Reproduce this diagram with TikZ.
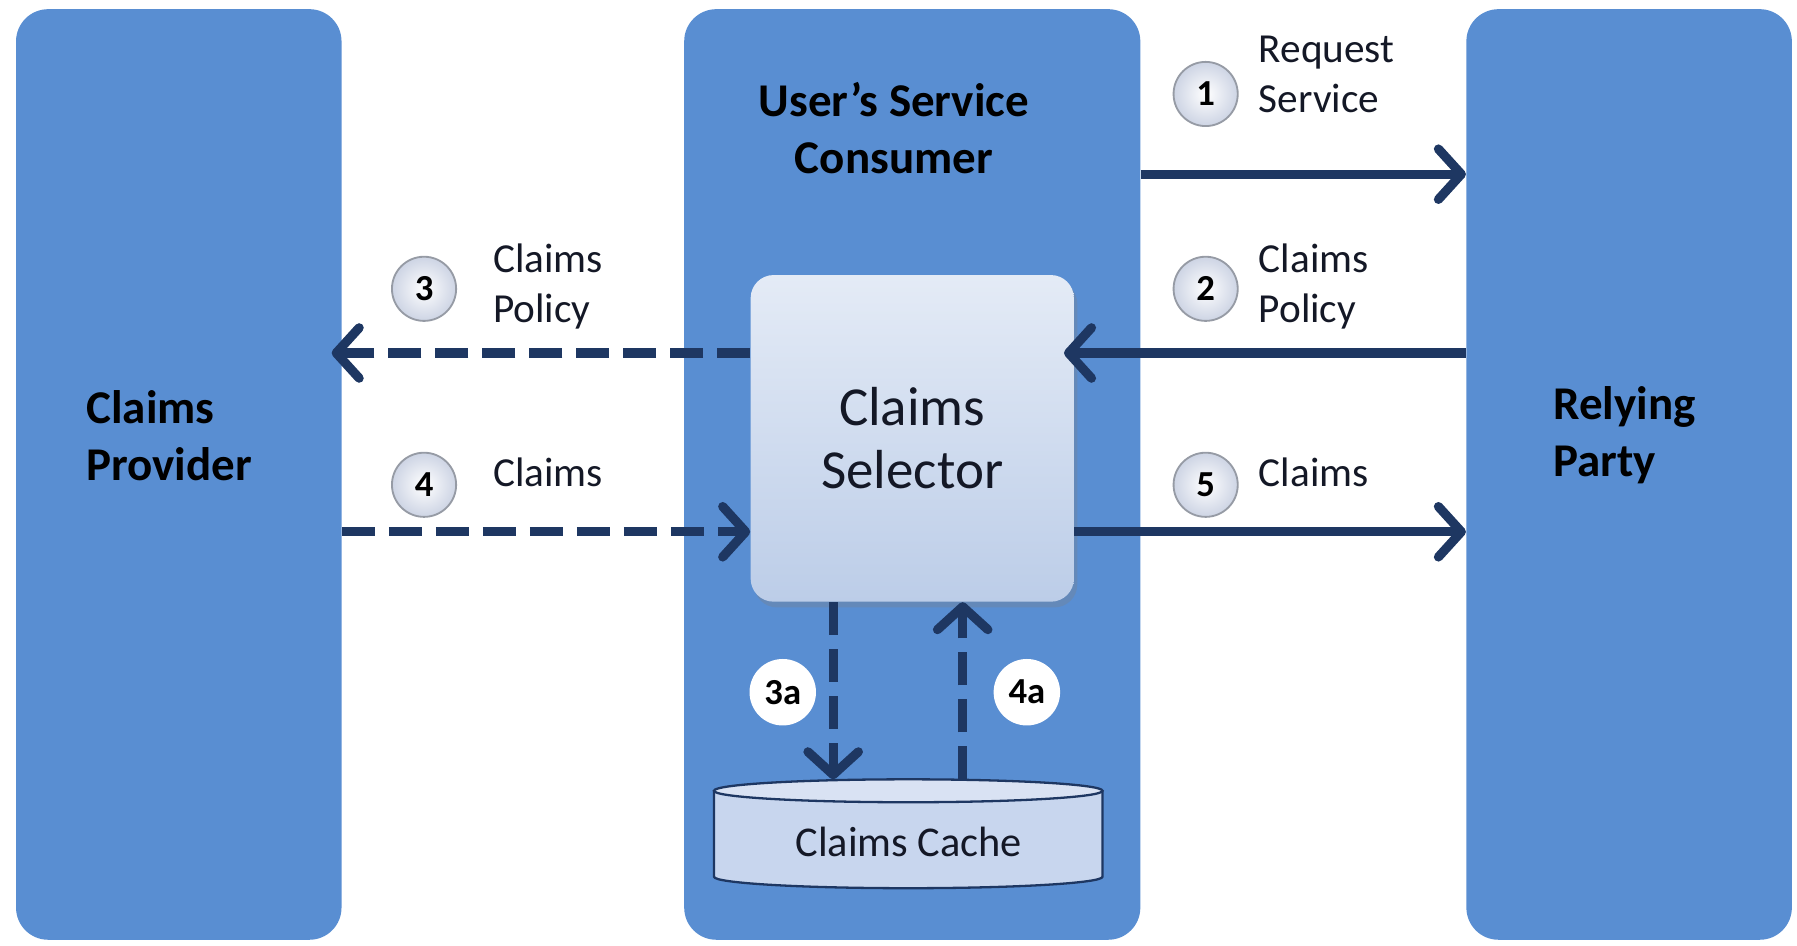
\documentclass[tikz,border=0pt]{standalone}
\usepackage{fontspec}
\setmainfont{Carlito}
\usetikzlibrary{arrows.meta,shadows}

\definecolor{boxblue}{RGB}{89,142,210}
\definecolor{arrownavy}{RGB}{30,55,98}
\definecolor{selectortop}{RGB}{228,235,246}
\definecolor{selectorbot}{RGB}{188,205,232}
\definecolor{cachefill}{RGB}{200,214,238}
\definecolor{circleedge}{RGB}{150,155,165}
\definecolor{circleouter}{RGB}{205,212,228}
\definecolor{textdark}{RGB}{20,24,38}

\tikzset{
  party/.style={rectangle, rounded corners=14pt, fill=boxblue, minimum width=142pt, minimum height=406pt, inner sep=0pt},
  title/.style={font=\fontsize{20.5}{25}\selectfont\bfseries, text=black, align=left, inner sep=0pt},
  selector/.style={rectangle, rounded corners=10pt, minimum width=141pt, minimum height=142.5pt, top color=selectortop, bottom color=selectorbot, drop shadow={opacity=0.3, shadow xshift=1.5pt, shadow yshift=-2.5pt}, font=\fontsize{24}{27.5}\selectfont, align=center, text=textdark},
  msg/.style={font=\fontsize{18}{22}\selectfont, text=textdark, align=left, anchor=west, inner sep=0pt},
  stepnum/.style={circle, draw=circleedge, line width=0.8pt, inner color=white, outer color=circleouter, minimum size=28pt, inner sep=0pt, font=\fontsize{16}{16}\selectfont\bfseries},
  substep/.style={circle, fill=white, minimum size=29pt, inner sep=0pt, font=\fontsize{16}{16}\selectfont\bfseries},
  flow/.style={line width=4pt, draw=arrownavy, -{Straight Barb[length=10pt,width=22pt,round]}},
  flowdash/.style={flow, dash pattern=on 14.5pt off 6pt},
  overrun/.style={shorten >=-4.5pt},
}

\begin{document}
\begin{tikzpicture}[x=0.5pt,y=0.5pt,yscale=-1]
\useasboundingbox (0,0) rectangle (1568,825);

% parties
\node[party] (cp) at (156,414) {};
\node[party, minimum width=199pt] (usc) at (796,414) {};
\node[party] (rp) at (1421.5,414) {};

\node[title, anchor=west] (cptitle) at (75,380) {Claims\\Provider};
\node[title, anchor=west] (rptitle) at (1355,380) {Relying\\Party};
\node[title, align=center] (usctitle) at (780,112) {User’s Service\\Consumer};

% selector and cache
\node[selector] (sel) at (796,382.5) {Claims\\Selector};

\fill[cachefill] (623,690) -- (623,765) arc[start angle=180, end angle=0, x radius=169.5, y radius=10] -- (962,690) -- cycle;
\draw[arrownavy, line width=1pt] (623,690) -- (623,765) arc[start angle=180, end angle=0, x radius=169.5, y radius=10] -- (962,690);
\draw[arrownavy, line width=1pt, fill=cachefill!70!white] (792.5,690) ellipse[x radius=169.5, y radius=10];
\node[font=\fontsize{18.5}{20}\selectfont, text=textdark] (cache) at (793,735) {Claims Cache};
\coordinate (cachetop) at (792.5,680);

% flow levels
\coordinate (y1) at (0,152);
\coordinate (y2) at (0,308);
\coordinate (y4) at (0,464);
\coordinate (x3a) at (727,0);
\coordinate (x4a) at (840,0);

\draw[flow] (usc.east |- y1) -- (rp.west |- y1);
\draw[flow, overrun] (rp.west |- y2) -- (sel.east |- y2);
\draw[flowdash, overrun] (sel.west |- y2) -- (cp.east |- y2);
\draw[flowdash] (cp.east |- y4) -- (sel.west |- y4);
\draw[flow] (sel.east |- y4) -- (rp.west |- y4);
\draw[flowdash] (sel.south -| x3a) -- (cachetop -| x3a);
\draw[flowdash] (cachetop -| x4a) -- (sel.south -| x4a);

% step numbers
\node[stepnum] (s1) at (1052,82) {1};
\node[stepnum] (s2) at (1052,252) {2};
\node[stepnum] (s3) at (370,252) {3};
\node[stepnum] (s4) at (370,423) {4};
\node[stepnum] (s5) at (1052,423) {5};
\node[substep] (s3a) at (683,604) {3a};
\node[substep] (s4a) at (896,604) {4a};

% messages
\node[msg] (m1) at (1098,65) {Request\\Service};
\node[msg] (m2) at (1098,250) {Claims\\Policy};
\node[msg] (m3) at (430,250) {Claims\\Policy};
\node[msg] (m4) at (430,412) {Claims};
\node[msg] (m5) at (1098,412) {Claims};
\end{tikzpicture}
\end{document}
